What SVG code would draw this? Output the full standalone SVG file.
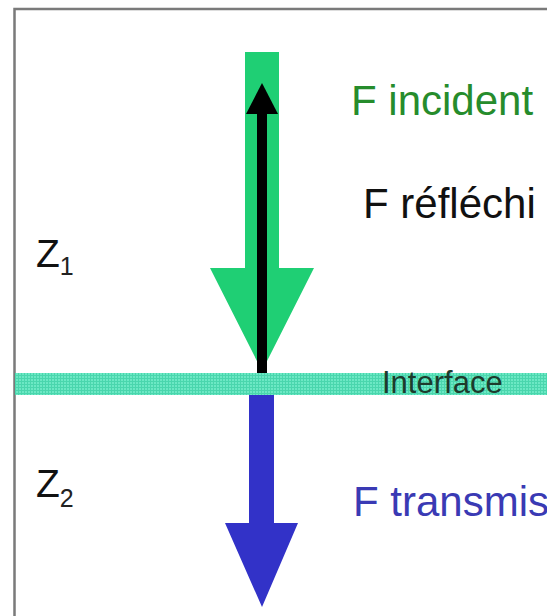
<svg xmlns="http://www.w3.org/2000/svg" width="547" height="616" viewBox="0 0 547 616">
  <defs>
    <pattern id="grid" width="3" height="3" patternUnits="userSpaceOnUse">
      <rect width="3" height="3" fill="#6ce8c4"/>
      <path d="M0 0.5H3M0.5 0V3" stroke="#4ad6ad" stroke-width="1"/>
    </pattern>
    <style>
      .lbl { font-family: "Liberation Sans", Arial, sans-serif; }
      .big { font-size: 42px; }
      .z { font-size: 39px; fill: #111; }
      .sub { font-size: 25px; fill: #222; }
    </style>
  </defs>
  <rect x="0" y="0" width="547" height="616" fill="#ffffff"/>
  <rect id="frame" x="14.5" y="9" width="560" height="640" fill="none" stroke="#7a7a7a" stroke-width="2.5"/>

  <g id="interface">
    <rect x="15" y="373" width="532" height="22" fill="url(#grid)"/>
    <text class="lbl" x="382" y="393" font-size="31" fill="#1d3b2c">Interface</text>
  </g>

  <g id="connectors">
    <polygon id="incident-arrow" points="245,52 279,52 279,268 314,268 262,371 210,268 245,268" fill="#1fcf74"/>
    <g id="reflected-arrow" fill="#000">
      <rect x="257" y="112" width="10" height="261"/>
      <polygon points="262,83 278,114 246,114"/>
    </g>
    <polygon id="transmitted-arrow" points="249,395 274,395 274,523 298,523 262,607 225,523 249,523" fill="#3232c8"/>
  </g>

  <g id="label-incident">
    <text class="lbl big" x="351" y="115" fill="#268c2c">F incident</text>
  </g>
  <g id="label-reflected">
    <text class="lbl big" x="363" y="218" fill="#111">F réfléchi</text>
  </g>
  <g id="label-transmitted">
    <text class="lbl big" x="353" y="516" fill="#3a3ab4">F transmis</text>
  </g>
  <g id="label-z1">
    <text class="lbl z" x="36" y="267">Z<tspan class="sub" dy="8">1</tspan></text>
  </g>
  <g id="label-z2">
    <text class="lbl z" x="36" y="497">Z<tspan class="sub" dy="10">2</tspan></text>
  </g>
</svg>
